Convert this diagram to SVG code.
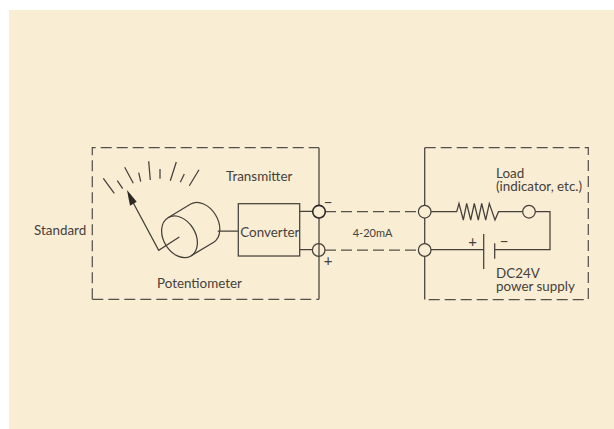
<svg xmlns="http://www.w3.org/2000/svg" width="614" height="429" viewBox="0 0 614 429">
<style>
.l{fill:none;stroke:#45403b;stroke-width:1.25}
.d{fill:none;stroke:#55504a;stroke-width:1.25;stroke-dasharray:11 5}
.c{fill:#f9edd3;stroke:#45403b;stroke-width:1.25}
text{font-family:"Lato","Open Sans",sans-serif;font-size:13.4px;fill:#45413c}
.s{font-size:15px;text-anchor:middle}
</style>
<rect width="614" height="429" fill="#fff"/>
<rect x="9" y="10" width="605" height="419" fill="#f9edd3"/>
<g id="connectors">
<path class="d" d="M92.3 299.3V147.7H319M92.3 299.3H319"/>
<path class="l" d="M319 147.7V299.3"/>
<path class="d" d="M325 211.7H418M325 250H418"/>
<path class="d" d="M424.7 147.7H588.3V299.5H424.7"/>
<path class="l" d="M424.7 147.7V299.5"/>
<path class="l" d="M217.7 231H238.3M299.7 211.3H312.7M299.7 249.7H312.7"/>
<path class="l" d="M431 211.7H456.7L459 203.5 463.3 220 466.7 203.5 470.7 220 474.3 203.5 478.3 220 481.7 203.5 485.7 220 489.3 203.5 495 220 498.5 211.7H522.7M535.3 211.7H550V249.7H494.7M431 249.7H483.7"/>
<path class="l" d="M483.7 234V269M494.7 243.3V258.7"/>
</g>
<g id="gauge">
<path class="l" d="M103.3 178.3L114.3 193.3M117.3 180.7L122.7 188.7M124.7 167.3L133.3 183.3M138.7 172.7L140.7 181.7M148.7 161.3L150.3 180M160 169V178.7M176.3 162L170.3 180.7M184.3 174L180.3 182.3M199 169.7L189.3 185.7"/>
<path class="l" d="M179.3 237L158.7 250.3 131.7 200"/>
<polygon points="127,190 136.7,201.7 130,205.7" fill="#2b2825"/>
</g>
<g id="potentiometer">
<ellipse class="l" cx="179.5" cy="236.8" rx="22.3" ry="16" transform="rotate(59 179.5 236.8)"/>
<path class="l" d="M168 217.7L190.7 204A22.3 16 59 0 1 213.7 242.2L191 255.9"/>
<text x="157" y="288">Potentiometer</text>
</g>
<g id="converter">
<rect class="l" x="238.3" y="203.7" width="61.4" height="52.3"/>
<text x="240.3" y="236.5">Converter</text>
</g>
<g id="terminal-a"><circle class="c" cx="319" cy="211.7" r="6.3" style="stroke-width:1.6;stroke:#2b2825"/><text class="s" x="328" y="208">−</text></g>
<g id="terminal-b"><circle class="c" cx="318.7" cy="250" r="6.3" style="fill:none"/><text class="s" x="328" y="265.5">+</text></g>
<g id="terminal-c"><circle class="c" cx="424.7" cy="211.7" r="6.3"/></g>
<g id="terminal-d"><circle class="c" cx="424.7" cy="250" r="6.3"/></g>
<g id="terminal-e"><circle class="c" cx="529" cy="211.7" r="6.3"/></g>
<g id="labels">
<text x="34" y="235">Standard</text>
<text x="226" y="181">Transmitter</text>
<text x="352.7" y="236.5" style="font-size:11px">4-20mA</text>
<text x="496" y="178">Load</text>
<text x="496" y="190.7">(indicator, etc.)</text>
<text class="s" x="472.7" y="247">+</text>
<text class="s" x="504" y="247">−</text>
<text x="496" y="277.7">DC24V</text>
<text x="496" y="290.5">power supply</text>
</g>
</svg>
